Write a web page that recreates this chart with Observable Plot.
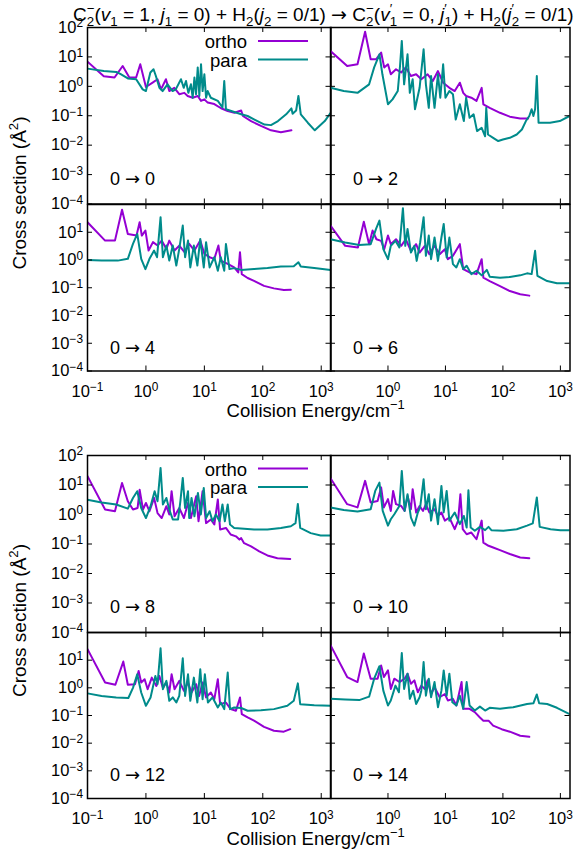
<!DOCTYPE html>
<html>
<head>
<meta charset="utf-8">
<script src="https://cdn.jsdelivr.net/npm/d3@7"></script>
<script src="https://cdn.jsdelivr.net/npm/@observablehq/plot@0.6"></script>
<style>
  html, body { margin: 0; padding: 0; background: #fff; }
  #root { position: relative; width: 576px; height: 853px; overflow: hidden; background: #fff;
          font-family: "Liberation Sans", Arial, sans-serif; color: #000; }
  #root > svg { position: absolute; overflow: visible; max-width: none; }
</style>
</head>
<body>
<div id="root"></div>
<script>
// ---------------- data (collision energy in cm^-1, cross section in Å^2) ----------------
const xTicks = [0.1, 1, 10, 100, 1000];
const yTicks = [1e-4, 1e-3, 1e-2, 1e-1, 1, 10, 100];
const seriesNames = ["ortho", "para"];
const panelLabels = ["0 → 0", "0 → 2", "0 → 4", "0 → 6", "0 → 8", "0 → 10", "0 → 12", "0 → 14"];

const ortho_0_0 = [[0.1,6.9],[0.19,2.2],[0.29,2.0],[0.4,4.9],[0.52,2.0],[0.68,2.0],[0.8,5.6],[1.0,0.95],[1.3,1.33],[1.58,1.74],[1.81,0.79],[2.2,1.74],[2.51,0.69],[3.06,0.89],[3.72,0.54],[4.54,0.6],[5.18,0.47],[6.31,0.41],[7.7,0.47],[8.77,0.32],[10,0.36],[11.4,0.28],[14.8,0.25],[19.3,0.18],[25.1,0.145],[32.7,0.126],[42.7,0.15],[45.7,0.098],[63,0.066],[93,0.045],[138,0.032],[204,0.0275],[309,0.032]];
const para_0_0 = [[0.1,4.0],[0.19,3.3],[0.31,3.1],[0.37,2.6],[0.49,1.86],[0.68,1.74],[0.88,0.79],[1.0,0.69],[1.19,2.95],[1.35,3.8],[1.48,2.24],[1.7,0.89],[1.93,0.69],[2.34,1.17],[2.86,0.69],[3.24,0.79],[3.98,1.74],[4.43,0.89],[4.85,1.51],[5.32,0.6],[5.89,1.17],[6.31,0.41],[6.76,2.0],[7.2,0.54],[7.7,4.4],[8.2,0.47],[8.77,5.6],[9.33,0.69],[10,2.57],[10.7,0.41],[11.4,0.69],[12.9,0.41],[17,0.32],[20.4,0.19],[21.9,1.51],[23.4,0.166],[28.8,0.145],[42.7,0.112],[55,0.098],[72,0.074],[107,0.05],[138,0.048],[182,0.066],[251,0.112],[309,0.178],[324,0.117],[372,0.151],[407,0.47],[447,0.112],[589,0.058],[776,0.032],[1150,0.066],[1450,0.126]];

const ortho_0_2 = [[0.1,15.8],[0.195,4.9],[0.295,5.6],[0.4,72],[0.5,8.3],[0.62,8.3],[0.76,14.1],[0.86,4.4],[1.0,5.6],[1.12,2.57],[1.38,3.8],[1.7,2.95],[2.04,4.4],[2.51,2.24],[3.09,2.57],[3.8,1.74],[4.9,2.57],[6.03,1.51],[7.41,3.31],[9.12,1.33],[11.7,0.89],[14.5,0.69],[17.8,1.33],[20.4,0.6],[22.9,0.47],[28.2,0.41],[34.7,0.32],[42.7,0.89],[45.7,0.245],[58.9,0.186],[89,0.126],[132,0.093],[200,0.081],[275,0.081]];
const para_0_2 = [[0.1,0.89],[0.17,0.69],[0.295,0.6],[0.47,1.17],[0.575,4.4],[0.71,12.3],[0.8,2.57],[1.0,0.245],[1.2,0.36],[1.48,0.69],[1.62,4.9],[1.74,35],[1.91,1.17],[2.19,12.3],[2.4,0.6],[2.69,1.74],[2.95,0.166],[3.55,0.89],[4.17,18.2],[4.57,1.17],[5.13,0.186],[5.62,2.24],[6.46,0.186],[7.41,2.57],[8.13,0.41],[9.12,5.6],[10,0.41],[11.7,0.69],[13.5,0.54],[15.1,0.074],[17.8,0.245],[20.9,0.066],[22.9,0.41],[26.3,0.085],[30.9,0.112],[35.5,0.03],[42.7,0.039],[49,0.02],[51.3,0.186],[55,0.023],[67.6,0.0178],[83,0.0138],[100,0.0155],[132,0.0178],[174,0.023],[214,0.034],[251,0.066],[288,0.098],[316,0.166],[339,0.098],[363,0.166],[389,2.24],[417,0.058],[661,0.058],[977,0.066],[1450,0.098]];

const ortho_0_4 = [[0.1,23],[0.2,5.0],[0.295,5.0],[0.39,65],[0.49,8.7],[0.69,7.6],[0.78,23],[0.85,7.6],[0.98,11.5],[1.11,2.19],[1.32,4.4],[1.58,3.31],[1.86,5.0],[2.24,2.51],[2.51,5.0],[3.09,2.19],[3.72,3.31],[4.57,1.91],[5.5,3.8],[6.76,2.19],[8.51,5.0],[10,1.66],[12.3,1.26],[14.8,1.1],[17.4,3.31],[19.1,0.95],[25.1,0.72],[32.4,0.54],[38,0.355],[40.7,1.91],[43.7,0.31],[55,0.224],[70.8,0.178],[105,0.117],[155,0.095],[229,0.083],[302,0.085]];
const para_0_4 = [[0.1,1.0],[0.174,0.95],[0.33,0.95],[0.49,1.1],[0.6,3.8],[0.71,8.7],[0.83,1.1],[0.98,0.47],[1.15,1.1],[1.38,2.19],[1.55,1.26],[1.78,35],[1.95,1.26],[2.24,3.31],[2.51,0.95],[2.88,3.31],[3.31,0.63],[3.72,2.51],[4.27,17.4],[4.68,1.26],[5.25,5.0],[5.75,0.54],[6.61,3.31],[7.59,0.63],[8.51,5.75],[9.77,0.54],[10.7,4.4],[12.3,0.54],[14.8,1.26],[17,0.41],[19.1,1.26],[21.9,0.41],[23.4,3.8],[26.9,0.47],[32.4,0.51],[42.7,0.44],[70.8,0.47],[120,0.51],[204,0.58],[339,0.6],[407,0.83],[447,0.58],[759,0.51],[1450,0.44]];

const ortho_0_6 = [[0.1,17.4],[0.18,3.24],[0.3,2.82],[0.38,24],[0.47,3.72],[0.54,11.5],[0.63,5.6],[0.76,4.9],[0.86,2.45],[1.0,7.6],[1.12,3.72],[1.38,5.6],[1.7,3.24],[2.04,5.6],[2.51,2.14],[3.09,3.72],[3.55,1.86],[4.37,3.24],[5.25,1.62],[6.46,3.24],[7.94,1.62],[9.77,2.45],[11,1.07],[13.5,1.41],[17.8,3.72],[20.4,0.47],[26.3,0.355],[34.7,0.31],[42.7,1.07],[45.7,0.23],[58.9,0.174],[89,0.115],[132,0.076],[200,0.058],[288,0.052]];
const para_0_6 = [[0.1,5.6],[0.18,4.27],[0.316,3.47],[0.5,3.72],[0.62,13.2],[0.71,26.3],[0.83,2.45],[1.0,1.07],[1.12,3.24],[1.35,4.9],[1.58,2.82],[1.82,74],[2.0,3.24],[2.19,13.2],[2.51,1.86],[2.88,3.24],[3.16,0.93],[3.63,4.27],[4.17,35],[4.57,1.41],[5.13,7.6],[5.62,1.07],[6.46,6.46],[7.41,0.93],[8.51,6.46],[9.33,20],[10.5,1.23],[11.7,6.46],[13.5,0.71],[15.5,0.54],[17.8,1.07],[20.4,0.47],[23.4,0.62],[28.2,0.31],[34.7,0.41],[42.7,0.28],[52.5,0.44],[58.9,0.25],[89,0.23],[132,0.245],[200,0.28],[263,0.33],[316,0.31],[363,2.14],[398,0.27],[589,0.174],[871,0.145],[1450,0.145]];

const ortho_0_8 = [[0.1,20],[0.2,1.48],[0.295,1.29],[0.39,11.7],[0.49,2.82],[0.6,1.48],[0.72,1.66],[0.78,6.9],[0.89,1.48],[1.0,2.45],[1.15,1.29],[1.38,3.63],[1.58,1.12],[1.86,0.76],[2.24,1.91],[2.51,1.0],[2.75,6.17],[3.09,0.87],[3.72,1.66],[4.47,0.76],[5.25,2.45],[5.89,0.76],[7.24,4.17],[7.94,0.59],[9.33,6.17],[10.7,0.51],[12.9,0.68],[14.8,0.457],[17,3.24],[18.6,0.31],[23.4,0.35],[28.2,0.21],[34.7,0.182],[39.8,0.141],[42.7,0.158],[47.9,0.107],[63,0.083],[87,0.056],[120,0.041],[178,0.033],[295,0.031]];
const para_0_8 = [[0.1,3.16],[0.174,2.57],[0.31,2.19],[0.49,1.58],[0.6,3.63],[0.71,6.17],[0.83,1.66],[1.0,0.76],[1.2,1.91],[1.41,6.17],[1.58,2.82],[1.78,38],[1.95,2.19],[2.24,3.63],[2.51,1.48],[2.88,0.68],[3.55,0.68],[3.89,2.82],[4.27,17.4],[4.68,1.66],[5.25,6.17],[5.5,0.76],[6.03,3.63],[6.76,0.87],[7.76,5.37],[8.71,1.0],[9.77,7.94],[10.7,0.76],[12.3,1.29],[13.8,0.59],[15.8,1.0],[18.2,0.59],[20.4,2.19],[22.4,0.59],[25.1,2.19],[27.5,0.457],[32.4,0.35],[47.9,0.33],[70.8,0.31],[120,0.31],[204,0.35],[302,0.4],[363,0.51],[398,2.29],[437,0.35],[661,0.234],[977,0.195],[1450,0.195]];

const ortho_0_10 = [[0.1,17],[0.195,2.24],[0.295,1.74],[0.4,13.8],[0.5,2.57],[0.66,2.88],[0.76,8.3],[0.85,1.74],[1.0,3.31],[1.12,1.32],[1.23,6.31],[1.38,2.24],[1.7,1.95],[1.95,1.32],[2.19,4.27],[2.51,1.51],[2.69,7.24],[3.09,1.17],[3.55,1.95],[4.07,1.32],[4.57,2.24],[5.25,1.17],[6.46,1.51],[7.41,0.89],[8.51,1.17],[9.77,0.62],[11.7,0.79],[14.5,0.32],[16.6,0.62],[18.2,4.9],[20,0.32],[23.4,0.214],[28.2,0.245],[34.7,0.145],[42.7,0.62],[45.7,0.112],[56.2,0.087],[67.6,0.076],[89,0.062],[132,0.046],[200,0.035],[288,0.033]];
const para_0_10 = [[0.1,1.74],[0.17,1.41],[0.295,1.26],[0.5,1.51],[0.6,6.31],[0.71,12],[0.81,1.32],[1.0,0.42],[1.12,0.69],[1.29,1.02],[1.58,1.95],[1.74,30],[1.95,1.32],[2.19,4.9],[2.51,0.79],[2.88,0.42],[3.31,1.17],[3.63,1.74],[4.17,15.8],[4.57,1.51],[5.13,4.9],[5.62,0.62],[6.46,3.31],[7.41,0.47],[8.51,9.33],[9.33,1.17],[10.5,6.31],[11.7,0.62],[14.5,1.17],[17.8,0.47],[20.9,0.89],[23.4,0.36],[25.1,6.61],[27.5,0.36],[32.4,0.28],[39.8,0.38],[49,0.295],[56.2,0.38],[63,0.295],[102,0.28],[174,0.316],[263,0.42],[331,0.5],[389,3.8],[437,0.38],[676,0.316],[1000,0.295],[1450,0.295]];

const ortho_0_12 = [[0.1,25],[0.2,1.55],[0.3,1.29],[0.41,8.9],[0.49,1.29],[0.65,1.35],[0.75,4.07],[0.83,1.55],[0.95,2.04],[1.07,0.89],[1.26,2.34],[1.51,1.17],[1.7,2.69],[1.95,1.02],[2.24,1.55],[2.51,0.68],[2.75,3.09],[3.09,0.89],[3.72,1.78],[4.47,0.78],[5.25,1.55],[6.03,0.68],[7.24,1.35],[8.13,0.51],[9.33,1.55],[10.7,0.45],[12.9,0.68],[14.8,0.39],[17,2.04],[18.6,0.257],[23.4,0.295],[28.2,0.17],[34.7,0.148],[40.7,0.45],[43.7,0.112],[55,0.085],[70.8,0.065],[105,0.039],[155,0.028],[229,0.026],[295,0.032]];
const para_0_12 = [[0.1,0.63],[0.174,0.51],[0.31,0.45],[0.5,0.43],[0.6,1.0],[0.71,3.09],[0.83,0.68],[1.0,0.224],[1.2,0.45],[1.45,2.69],[1.58,1.35],[1.78,27],[1.95,0.89],[2.24,1.78],[2.51,0.34],[2.88,0.45],[3.31,0.295],[3.72,0.51],[4.27,11.7],[4.68,0.51],[5.25,3.09],[5.75,0.34],[6.61,2.34],[7.59,0.295],[8.51,4.68],[9.33,0.39],[10.2,3.09],[11.5,0.295],[13.8,0.45],[17,0.195],[19.1,0.295],[21.9,0.17],[25.1,3.55],[27.5,0.17],[32.4,0.195],[42.7,0.186],[55,0.148],[93,0.155],[155,0.17],[263,0.224],[339,0.34],[398,1.45],[437,0.257],[759,0.234],[1450,0.224]];

const ortho_0_14 = [[0.1,35],[0.195,2.45],[0.295,1.62],[0.38,17.4],[0.5,2.14],[0.66,2.14],[0.76,6.46],[0.85,2.45],[1.0,4.27],[1.12,0.91],[1.29,2.14],[1.58,1.62],[1.95,2.14],[2.19,3.24],[2.51,1.41],[2.88,1.86],[3.31,0.69],[3.8,1.2],[4.37,0.91],[4.9,1.86],[5.62,0.6],[6.46,1.05],[7.94,0.457],[9.77,0.6],[11,0.35],[13.5,0.4],[15.5,0.23],[19.1,1.62],[20.4,0.174],[26.3,0.174],[32.4,0.132],[39.8,0.085],[45.7,0.065],[56.2,0.065],[67.6,0.043],[95,0.032],[132,0.026],[200,0.0186],[288,0.017]];
const para_0_14 = [[0.1,0.4],[0.18,0.38],[0.316,0.36],[0.47,0.48],[0.575,2.14],[0.71,6.03],[0.83,0.79],[1.0,0.23],[1.12,0.35],[1.35,1.2],[1.55,0.69],[1.74,18.2],[1.91,0.91],[2.19,3.24],[2.4,0.4],[2.75,0.79],[3.09,0.26],[3.55,0.457],[3.8,0.79],[4.17,8.5],[4.57,0.52],[5.13,2.14],[5.62,0.457],[6.46,1.62],[7.41,0.2],[8.51,0.79],[9.33,4.27],[10.5,0.52],[11.7,3.24],[13.2,0.3],[15.5,0.23],[17.8,0.52],[20.4,0.174],[23.4,1.62],[26.3,0.23],[32.4,0.151],[39.8,0.21],[49,0.151],[58.9,0.19],[89,0.174],[151,0.2],[263,0.26],[339,0.275],[389,0.575],[427,0.275],[589,0.26],[871,0.19],[1450,0.112]];

// ---------------- layout / style ----------------
const ORTHO_COLOR = "#9400d3";
const PARA_COLOR = "#008b8b";
const FONT = '"Liberation Sans", Arial, Helvetica, sans-serif';
const ARROW_FONT = '"DejaVu Sans", sans-serif';
const COLS = [[86.5, 330], [330, 569.5]];
const ROWS = [[27, 203.5], [203.5, 370], [454.5, 631.5], [631.5, 797.5]];

const panels = [
  {o: ortho_0_0,  p: para_0_0,  col: 0, row: 0},
  {o: ortho_0_2,  p: para_0_2,  col: 1, row: 0},
  {o: ortho_0_4,  p: para_0_4,  col: 0, row: 1},
  {o: ortho_0_6,  p: para_0_6,  col: 1, row: 1},
  {o: ortho_0_8,  p: para_0_8,  col: 0, row: 2},
  {o: ortho_0_10, p: para_0_10, col: 1, row: 2},
  {o: ortho_0_12, p: para_0_12, col: 0, row: 3},
  {o: ortho_0_14, p: para_0_14, col: 1, row: 3}
];

const NS = "http://www.w3.org/2000/svg";
const root = document.getElementById("root");
const fmt = d => "10^" + Math.round(Math.log10(d));

function superscriptTicks(svg) {
  svg.querySelectorAll('g[aria-label$="tick label"] text').forEach(t => {
    const m = t.textContent.match(/^10\^(-?\d+)$/);
    if (!m) return;
    t.textContent = "";
    const a = document.createElementNS(NS, "tspan");
    a.textContent = "10";
    const b = document.createElementNS(NS, "tspan");
    b.setAttribute("dy", "-0.45em");
    b.setAttribute("font-size", "0.72em");
    b.textContent = m[1].replace("-", "−");
    t.append(a, b);
  });
}

// render the arrow of the panel labels with a font whose arrow is full width
function arrowFont(svg) {
  svg.querySelectorAll("text").forEach(t => {
    if (t.children.length || !t.textContent.includes("→")) return;
    const parts = t.textContent.split("→");
    t.textContent = "";
    parts.forEach((s, k) => {
      if (k > 0) {
        const a = document.createElementNS(NS, "tspan");
        a.setAttribute("font-family", ARROW_FONT);
        a.textContent = "→";
        t.appendChild(a);
      }
      const b = document.createElementNS(NS, "tspan");
      b.textContent = s;
      t.appendChild(b);
    });
  });
}

panels.forEach((pn, i) => {
  const [x0, x1] = COLS[pn.col], [y0, y1] = ROWS[pn.row];
  const w = x1 - x0, h = y1 - y0;
  const mL = 60, mR = 10, mT = 10, mB = 40;
  const upper = pn.row % 2 === 0;
  const marks = [
    Plot.line(pn.o, {x: d => d[0], y: d => d[1], stroke: ORTHO_COLOR, strokeWidth: 2, clip: true}),
    Plot.line(pn.p, {x: d => d[0], y: d => d[1], stroke: PARA_COLOR, strokeWidth: 2, clip: true}),
    Plot.ruleX(xTicks, {x: d => d, insetTop: h - 5, stroke: "black", strokeWidth: 1}),
    Plot.ruleX(xTicks, {x: d => d, insetBottom: h - 5, stroke: "black", strokeWidth: 1}),
    Plot.ruleY(yTicks, {y: d => d, insetRight: w - 5, stroke: "black", strokeWidth: 1}),
    Plot.ruleY(yTicks, {y: d => d, insetLeft: w - 5, stroke: "black", strokeWidth: 1}),
    Plot.frame({stroke: "black", strokeWidth: 1.5}),
    Plot.text([panelLabels[i]], {text: d => d, frameAnchor: "bottom-left", dx: 22.5, dy: upper ? -25 : -23,
      textAnchor: "start", lineAnchor: "middle", fontSize: 18, fill: "black"})
  ];
  if (pn.col === 0) {
    marks.push(Plot.axisY({anchor: "left", ticks: upper ? yTicks : yTicks.slice(0, 6), tickSize: 0,
      tickPadding: 4.5, tickFormat: fmt, label: null, fill: "black"}));
  }
  if (!upper) {
    marks.push(Plot.axisX({anchor: "bottom", ticks: pn.col === 0 ? xTicks : xTicks.slice(1), tickSize: 0,
      tickPadding: 14, tickFormat: fmt, label: null, fill: "black"}));
  }
  const svg = Plot.plot({
    width: w + mL + mR, height: h + mT + mB,
    marginLeft: mL, marginRight: mR, marginTop: mT, marginBottom: mB,
    x: {type: "log", domain: [0.1, 1470], axis: null},
    y: {type: "log", domain: [1e-4, 100], axis: null},
    style: {fontFamily: FONT, fontSize: "16.5px", color: "black", background: "transparent", overflow: "visible"},
    marks
  });
  superscriptTicks(svg);
  arrowFont(svg);
  svg.style.left = (x0 - mL) + "px";
  svg.style.top = (y0 - mT) + "px";
  root.appendChild(svg);
});

// ---------------- overlay: title, axis titles, legends ----------------
const ov = document.createElementNS(NS, "svg");
ov.setAttribute("width", 576); ov.setAttribute("height", 853);
ov.style.left = "0px"; ov.style.top = "0px";
ov.setAttribute("font-family", FONT);
root.appendChild(ov);

function el(tag, attrs, parent) {
  const e = document.createElementNS(NS, tag);
  for (const k in attrs) e.setAttribute(k, attrs[k]);
  (parent || ov).appendChild(e);
  return e;
}

// rich text helper: segments [text, kind, dx]
function rich(textEl, segs, fs) {
  let cur = 0;
  const small = fs * 0.7;
  for (const [s, kind, extraDx] of segs) {
    let shift = 0, size = fs, italic = false, family = null;
    if (kind === "i") italic = true;
    if (kind === "sub") { shift = fs * 0.28; size = small; }
    if (kind === "sup") { shift = -fs * 0.42; size = small; }
    if (kind === "arrow") family = ARROW_FONT;
    const t = el("tspan", {"font-size": size}, textEl);
    if (italic) t.setAttribute("font-style", "italic");
    if (family) t.setAttribute("font-family", family);
    const dy = shift - cur;
    if (dy !== 0) t.setAttribute("dy", dy.toFixed(2));
    if (extraDx) t.setAttribute("dx", (extraDx * fs).toFixed(2));
    t.textContent = s;
    cur = shift;
  }
}

// title
const title = el("text", {x: 73, y: 20.5, fill: "black"});
rich(title, [
  ["C"], ["2", "sub"], ["−", "sup", -0.39],
  ["("], ["v", "i"], ["1", "sub"], [" = 1, "], ["j", "i"], ["1", "sub"], [" = 0) + H"], ["2", "sub"],
  ["("], ["j", "i"], ["2", "sub"], [" = 0/1) "], ["→", "arrow"], [" C"], ["2", "sub"], ["−", "sup", -0.39],
  ["("], ["v", "i"], ["′", "sup"], ["1", "sub", -0.12], [" = 0, "], ["j", "i"], ["′", "sup"], ["1", "sub", -0.12],
  [") + H"], ["2", "sub"], ["("], ["j", "i"], ["′", "sup"], ["2", "sub", -0.12], [" = 0/1)"]
], 19);

// y-axis titles and x-axis titles for both groups
[[193, 416.5], [620.5, 844.5]].forEach(([yc, xb]) => {
  const yl = el("text", {transform: `translate(25.5,${yc}) rotate(-90)`, "text-anchor": "middle", fill: "black", "font-size": 19});
  rich(yl, [["Cross section (Å"], ["2", "sup"], [")"]], 19);
  const xl = el("text", {x: 315.7, y: xb, "text-anchor": "middle", fill: "black", "font-size": 18.5});
  rich(xl, [["Collision Energy/cm"], ["−1", "sup"]], 18.5);
});

// legends (top-left panel of each group)
[ROWS[0][0], ROWS[2][0]].forEach(top => {
  [[seriesNames[0], ORTHO_COLOR, 0], [seriesNames[1], PARA_COLOR, 1]].forEach(([name, color, k]) => {
    const t = el("text", {x: 247, y: top + 21.3 + k * 18.2, "text-anchor": "end", fill: "black", "font-size": 18.5});
    t.textContent = name;
    el("line", {x1: 258, x2: 308, y1: top + 13.9 + k * 18.6, y2: top + 13.9 + k * 18.6, stroke: color, "stroke-width": 2});
  });
});
</script>
</body>
</html>
